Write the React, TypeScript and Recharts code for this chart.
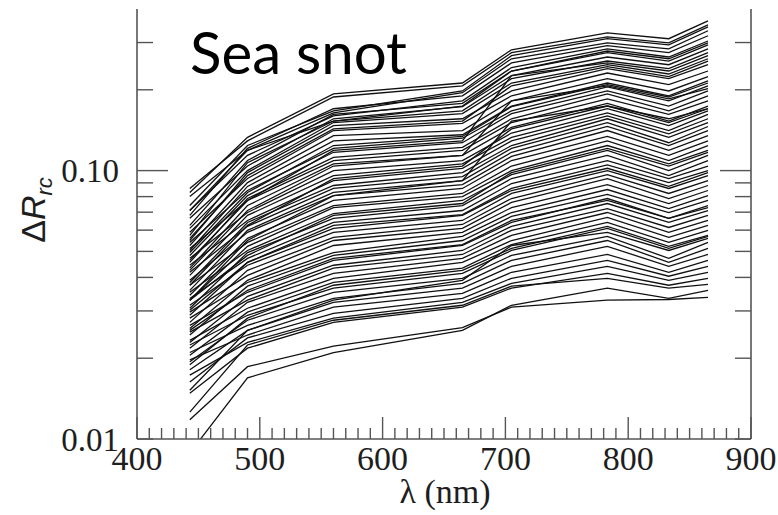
import { LineChart, Line, XAxis, YAxis } from "recharts";

// band centres (nm)
const WAVELENGTHS = [443, 490, 560, 665, 705, 783, 833, 865];

// ΔRrc spectra, one row per spectrum (same order as WAVELENGTHS)
const upperSpectra = [
  [0.0829, 0.133, 0.193, 0.212, 0.282, 0.326, 0.310, 0.361],
  [0.0858, 0.129, 0.188, 0.207, 0.275, 0.315, 0.299, 0.349],
  [0.0741, 0.124, 0.167, 0.198, 0.268, 0.310, 0.294, 0.343],
  [0.0800, 0.119, 0.164, 0.195, 0.261, 0.299, 0.284, 0.332],
  [0.0681, 0.121, 0.170, 0.190, 0.252, 0.292, 0.275, 0.318],
  [0.0710, 0.114, 0.160, 0.182, 0.242, 0.284, 0.265, 0.304],
  [0.0710, 0.119, 0.153, 0.174, 0.235, 0.279, 0.261, 0.299],
  [0.0625, 0.109, 0.162, 0.178, 0.235, 0.275, 0.256, 0.294],
  [0.0664, 0.104, 0.156, 0.173, 0.226, 0.265, 0.248, 0.284],
  [0.0574, 0.107, 0.153, 0.167, 0.220, 0.256, 0.240, 0.275],
  [0.0463, 0.0774, 0.119, 0.129, 0.226, 0.252, 0.235, 0.268],
  [0.0609, 0.100, 0.151, 0.163, 0.212, 0.248, 0.229, 0.261],
  [0.0559, 0.0958, 0.143, 0.153, 0.207, 0.244, 0.224, 0.256],
  [0.0549, 0.0983, 0.147, 0.156, 0.198, 0.240, 0.220, 0.248],
  [0.0589, 0.0934, 0.141, 0.150, 0.190, 0.231, 0.209, 0.235],
  [0.0526, 0.0902, 0.135, 0.141, 0.182, 0.220, 0.198, 0.224],
  [0.0504, 0.0873, 0.129, 0.136, 0.174, 0.212, 0.190, 0.216],
  [0.0495, 0.0829, 0.124, 0.134, 0.173, 0.209, 0.188, 0.212],
  [0.0425, 0.0710, 0.104, 0.114, 0.182, 0.207, 0.185, 0.202],
];

const middleSpectra = [
  [0.0540, 0.0843, 0.121, 0.132, 0.167, 0.205, 0.182, 0.207],
  [0.0483, 0.0807, 0.117, 0.127, 0.163, 0.198, 0.174, 0.198],
  [0.0455, 0.0787, 0.112, 0.122, 0.156, 0.193, 0.167, 0.190],
  [0.0513, 0.0774, 0.109, 0.119, 0.151, 0.185, 0.162, 0.182],
  [0.0433, 0.0741, 0.106, 0.114, 0.145, 0.178, 0.153, 0.174],
  [0.0329, 0.0549, 0.0807, 0.0918, 0.153, 0.174, 0.156, 0.170],
  [0.0374, 0.0625, 0.0934, 0.104, 0.143, 0.174, 0.151, 0.170],
  [0.0471, 0.0698, 0.100, 0.109, 0.138, 0.170, 0.147, 0.167],
  [0.0407, 0.0681, 0.0958, 0.106, 0.133, 0.164, 0.141, 0.162],
  [0.0444, 0.0652, 0.0918, 0.102, 0.129, 0.160, 0.137, 0.156],
  [0.0383, 0.0641, 0.0880, 0.0983, 0.124, 0.156, 0.133, 0.151],
  [0.0418, 0.0620, 0.0858, 0.0950, 0.121, 0.151, 0.127, 0.146],
  [0.0358, 0.0599, 0.0829, 0.0918, 0.117, 0.146, 0.124, 0.141],
  [0.0390, 0.0589, 0.0807, 0.0887, 0.113, 0.141, 0.119, 0.135],
  [0.0343, 0.0559, 0.0774, 0.0858, 0.109, 0.134, 0.114, 0.129],
  [0.0374, 0.0540, 0.0741, 0.0822, 0.104, 0.129, 0.109, 0.124],
  [0.0329, 0.0483, 0.0681, 0.0754, 0.0983, 0.121, 0.104, 0.117],
  [0.0329, 0.0522, 0.0728, 0.0800, 0.100, 0.124, 0.106, 0.119],
  [0.0352, 0.0504, 0.0692, 0.0774, 0.0966, 0.119, 0.100, 0.114],
  [0.0307, 0.0495, 0.0664, 0.0741, 0.0934, 0.114, 0.0958, 0.109],
  [0.0334, 0.0471, 0.0641, 0.0710, 0.0895, 0.109, 0.0934, 0.104],
  [0.0302, 0.0455, 0.0609, 0.0681, 0.0843, 0.102, 0.0873, 0.0983],
  [0.0289, 0.0455, 0.0625, 0.0686, 0.0858, 0.105, 0.0902, 0.100],
  [0.0315, 0.0444, 0.0589, 0.0652, 0.0822, 0.100, 0.0858, 0.0958],
  [0.0272, 0.0425, 0.0564, 0.0630, 0.0787, 0.0966, 0.0822, 0.0918],
  [0.0297, 0.0407, 0.0549, 0.0609, 0.0761, 0.0934, 0.0787, 0.0880],
  [0.0258, 0.0390, 0.0526, 0.0589, 0.0728, 0.0887, 0.0754, 0.0843],
  [0.0282, 0.0383, 0.0495, 0.0569, 0.0698, 0.0850, 0.0722, 0.0807],
  [0.0244, 0.0371, 0.0483, 0.0549, 0.0675, 0.0815, 0.0698, 0.0774],
  [0.0254, 0.0358, 0.0471, 0.0530, 0.0652, 0.0774, 0.0664, 0.0728],
  [0.0265, 0.0352, 0.0463, 0.0526, 0.0641, 0.0787, 0.0664, 0.0741],
  [0.0229, 0.0340, 0.0444, 0.0504, 0.0620, 0.0754, 0.0641, 0.0710],
];

const lowerSpectra = [
  [0.0250, 0.0329, 0.0433, 0.0487, 0.0599, 0.0722, 0.0614, 0.0681],
  [0.0218, 0.0323, 0.0414, 0.0471, 0.0574, 0.0698, 0.0589, 0.0652],
  [0.0233, 0.0307, 0.0397, 0.0455, 0.0549, 0.0669, 0.0564, 0.0625],
  [0.0205, 0.0297, 0.0383, 0.0433, 0.0530, 0.0641, 0.0540, 0.0599],
  [0.0224, 0.0289, 0.0365, 0.0414, 0.0504, 0.0609, 0.0513, 0.0569],
  [0.0189, 0.0282, 0.0374, 0.0425, 0.0513, 0.0620, 0.0522, 0.0574],
  [0.0152, 0.0254, 0.0329, 0.0390, 0.0526, 0.0589, 0.0504, 0.0559],
  [0.0194, 0.0277, 0.0352, 0.0397, 0.0483, 0.0569, 0.0471, 0.0540],
  [0.0210, 0.0265, 0.0334, 0.0380, 0.0463, 0.0549, 0.0455, 0.0513],
  [0.0181, 0.0254, 0.0323, 0.0365, 0.0440, 0.0522, 0.0440, 0.0487],
  [0.0197, 0.0244, 0.0310, 0.0349, 0.0418, 0.0487, 0.0418, 0.0463],
  [0.0163, 0.0238, 0.0294, 0.0334, 0.0397, 0.0463, 0.0404, 0.0440],
  [0.0173, 0.0229, 0.0282, 0.0323, 0.0380, 0.0440, 0.0390, 0.0418],
  [0.0148, 0.0218, 0.0272, 0.0310, 0.0365, 0.0414, 0.0374, 0.0397],
  [0.0126, 0.0224, 0.0277, 0.0315, 0.0371, 0.0397, 0.0365, 0.0377],
  [0.00887, 0.0169, 0.0210, 0.0254, 0.0315, 0.0365, 0.0334, 0.0358],
  [0.0118, 0.0186, 0.0222, 0.0260, 0.0310, 0.0329, 0.0331, 0.0337],
];

const spectra = [...upperSpectra, ...middleSpectra, ...lowerSpectra];

const chartData = WAVELENGTHS.map((wl, i) => {
  const row: Record<string, number> = { wl };
  spectra.forEach((s, j) => {
    row[`s${j}`] = s[i];
  });
  return row;
});

const X_MAJOR = [400, 500, 600, 700, 800, 900];
const X_TICKS = Array.from({ length: 51 }, (_, i) => 400 + i * 10);
const Y_TICKS = [0.01, 0.02, 0.03, 0.04, 0.05, 0.06, 0.07, 0.08, 0.09, 0.1, 0.2, 0.3];
const Y_LABELS: Record<string, string> = { "0.1": "0.10", "0.01": "0.01" };

const serif = "'Liberation Serif', 'DejaVu Serif', serif";
const sans = "'Liberation Sans', Arial, sans-serif";
const frame = "#555";
const textColor = "#1e1e1e";

function BottomTick({ x, y, payload }: any) {
  const v = payload.value;
  const major = X_MAJOR.includes(v);
  return (
    <g>
      <line x1={x} x2={x} y1={y} y2={y - (major ? 22 : 11)} stroke={frame} strokeWidth={1.4} />
      {major && (
        <text x={x} y={y + 31} textAnchor="middle" fontFamily={serif} fontSize={34} fill={textColor}>
          {v}
        </text>
      )}
    </g>
  );
}

function TopTick({ x, y, payload }: any) {
  const major = X_MAJOR.includes(payload.value);
  return <line x1={x} x2={x} y1={y} y2={y + (major ? 21 : 8)} stroke={frame} strokeWidth={1.4} />;
}

function LeftTick({ x, y, payload }: any) {
  const v = payload.value;
  const label = Y_LABELS[String(v)];
  const len = v === 0.1 ? 31 : 16;
  return (
    <g>
      <line x1={x} x2={x + len} y1={y} y2={y} stroke={frame} strokeWidth={1.4} />
      {label && (
        <text x={x - 18} y={v === 0.01 ? y + 12 : y + 11} textAnchor="end" fontFamily={serif} fontSize={33} fill={textColor}>
          {label}
        </text>
      )}
    </g>
  );
}

function RightTick({ x, y, payload }: any) {
  const len = payload.value === 0.1 ? 31 : 16;
  return <line x1={x} x2={x - len} y1={y} y2={y} stroke={frame} strokeWidth={1.4} />;
}

const axisLine = { stroke: frame, strokeWidth: 1.6 };

export default function App() {
  return (
    <div style={{ position: "absolute", left: 0, top: 0, width: 778, height: 515, background: "#fff" }}>
      <LineChart width={778} height={515} data={chartData} margin={{ top: 9, right: 0, left: 0, bottom: 0 }}>
        <XAxis
          dataKey="wl"
          type="number"
          domain={[400, 900]}
          ticks={X_TICKS}
          interval={0}
          height={76}
          tickSize={0}
          tickMargin={0}
          tickLine={false}
          axisLine={axisLine}
          tick={<BottomTick />}
        />
        <XAxis
          xAxisId="top"
          orientation="top"
          dataKey="wl"
          type="number"
          domain={[400, 900]}
          ticks={X_TICKS}
          interval={0}
          height={0}
          tickSize={0}
          tickMargin={0}
          tickLine={false}
          axisLine={axisLine}
          tick={<TopTick />}
        />
        <YAxis
          scale="log"
          type="number"
          domain={[0.01, 0.4]}
          allowDataOverflow
          ticks={Y_TICKS}
          interval={0}
          width={137}
          tickSize={0}
          tickMargin={0}
          tickLine={false}
          axisLine={axisLine}
          tick={<LeftTick />}
        />
        <YAxis
          yAxisId="right"
          orientation="right"
          scale="log"
          type="number"
          domain={[0.01, 0.4]}
          allowDataOverflow
          ticks={Y_TICKS}
          interval={0}
          width={27}
          tickSize={0}
          tickMargin={0}
          tickLine={false}
          axisLine={axisLine}
          tick={<RightTick />}
        />
        {spectra.map((_, j) => (
          <Line
            key={j}
            dataKey={`s${j}`}
            type="linear"
            stroke="#111"
            strokeWidth={1.3}
            dot={false}
            activeDot={false}
            isAnimationActive={false}
          />
        ))}
        <text x={190} y={74} fontFamily="Lato, 'Open Sans', sans-serif" fontSize={58} fill="#000" textLength={217} lengthAdjust="spacingAndGlyphs">
          Sea snot
        </text>
        <text x={445} y={503} textAnchor="middle" fontFamily={serif} fontSize={34} fill={textColor}>
          λ (nm)
        </text>
        <text transform="rotate(-90 45 210)" x={45} y={210} textAnchor="middle" fontFamily={sans} fontSize={34} fill={textColor}>
          Δ<tspan fontStyle="italic">R</tspan>
          <tspan fontStyle="italic" fontSize={22} dy={7}>rc</tspan>
        </text>
      </LineChart>
    </div>
  );
}
